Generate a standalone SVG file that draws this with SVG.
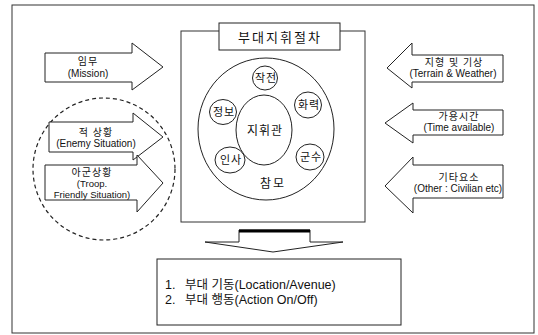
<svg xmlns="http://www.w3.org/2000/svg" width="538" height="335" viewBox="0 0 538 335">
<style>
  .ln { fill: #fff; stroke: #222; stroke-width: 1; }
  .frame { fill: none; stroke: #333; stroke-width: 1; }
  .t { font-family: "Liberation Sans", "Noto Sans CJK KR", sans-serif; fill: #111; text-anchor: middle; }
  .st { text-anchor: start; }
  .s9 { font-size: 9.5px; }
  .s10 { font-size: 10px; }
  .s11 { font-size: 11px; }
  .s12 { font-size: 12px; }
  .s13 { font-size: 13px; }
  .r { font-size: 12.5px; }
</style>
<rect width="538" height="335" fill="#fff"/>
<g id="outer-frame">
  <rect class="frame" x="12" y="5" width="522" height="328" stroke="#555"/>
</g>
<g id="procedure-box">
  <rect class="frame" x="181" y="31" width="184" height="191"/>
  <rect class="ln" x="219" y="23" width="121" height="27"/>
  <text class="t s13" x="280" y="42" letter-spacing="2">부대지휘절차</text>
</g>
<g id="staff">
  <ellipse class="ln" cx="266" cy="129" rx="68" ry="71"/>
  <text class="t s12" x="273" y="188" letter-spacing="2">참모</text>
</g>
<g id="commander">
  <ellipse class="ln" cx="264" cy="130" rx="28" ry="35"/>
  <text class="t s12" x="265" y="135" letter-spacing="1">지휘관</text>
</g>
<g id="operations">
  <ellipse class="ln" cx="265" cy="78" rx="12.5" ry="12"/>
  <text class="t s11" x="266" y="82" letter-spacing="1">작전</text>
</g>
<g id="fires">
  <ellipse class="ln" cx="308" cy="105" rx="13.5" ry="13"/>
  <text class="t s11" x="309" y="109" letter-spacing="1">화력</text>
</g>
<g id="intelligence">
  <ellipse class="ln" cx="223" cy="112" rx="13.5" ry="12.5"/>
  <text class="t s11" x="224" y="116" letter-spacing="1">정보</text>
</g>
<g id="personnel">
  <ellipse class="ln" cx="230" cy="160" rx="15" ry="13"/>
  <text class="t s11" x="231" y="164" letter-spacing="1">인사</text>
</g>
<g id="logistics">
  <ellipse class="ln" cx="310" cy="157" rx="14" ry="13"/>
  <text class="t s11" x="311" y="161" letter-spacing="1">군수</text>
</g>
<g id="mission">
  <polygon class="ln" points="45,53 132,53 132,43 163,67 132,90 132,82 45,82"/>
  <text class="t s10" x="88" y="65" letter-spacing="1">임무</text>
  <text class="t s10" x="88" y="77">(Mission)</text>
</g>
<g id="situation-group">
  <ellipse cx="104" cy="169" rx="71" ry="71" fill="none" stroke="#222" stroke-width="1.2" stroke-dasharray="4,3"/>
</g>
<g id="enemy">
  <polygon class="ln" points="49,122 133,122 133,113 163,137 133,160 133,152 49,152"/>
  <text class="t s10" x="96" y="136" letter-spacing="1">적 상황</text>
  <text class="t s10" x="96" y="147">(Enemy Situation)</text>
</g>
<g id="troop">
  <polygon class="ln" points="45,165 137,165 137,155 163,183 137,212 137,200 45,200"/>
  <text class="t s10" x="92" y="176" letter-spacing="1">아군상황</text>
  <text class="t s9" x="92" y="187">(Troop.</text>
  <text class="t s9" x="92" y="198">Friendly Situation)</text>
</g>
<g id="terrain">
  <polygon class="ln" points="503,55 412,55 412,43 387,68 412,88 412,82 503,82"/>
  <text class="t s10" x="454" y="66" letter-spacing="1">지형 및 기상</text>
  <text class="t s10" x="453" y="77">(Terrain &amp; Weather)</text>
</g>
<g id="time">
  <polygon class="ln" points="503,110 413,110 413,103 385,123 413,143 413,135 503,135"/>
  <text class="t s10" x="459" y="120" letter-spacing="1">가용시간</text>
  <text class="t s10" x="459" y="131">(Time available)</text>
</g>
<g id="other">
  <polygon class="ln" points="503,165 413,165 413,157 385,186 413,213 413,198 503,198"/>
  <text class="t s10" x="459" y="181" letter-spacing="1">기타요소</text>
  <text class="t s10" x="458" y="192">(Other : Civilian etc)</text>
</g>
<g id="connectors">
  <polygon class="ln" points="205,242 239,242 239,230 310,230 310,242 343,242 273,252"/>
  <line x1="239" y1="231" x2="310" y2="231" stroke="#000" stroke-width="3"/>
</g>
<g id="result">
  <rect class="ln" x="157" y="259" width="244" height="66"/>
  <text class="t st r" x="165" y="289">1.<tspan x="185">부대 기동(Location/Avenue)</tspan></text>
  <text class="t st r" x="165" y="304">2.<tspan x="185">부대 행동(Action On/Off)</tspan></text>
</g>
</svg>
